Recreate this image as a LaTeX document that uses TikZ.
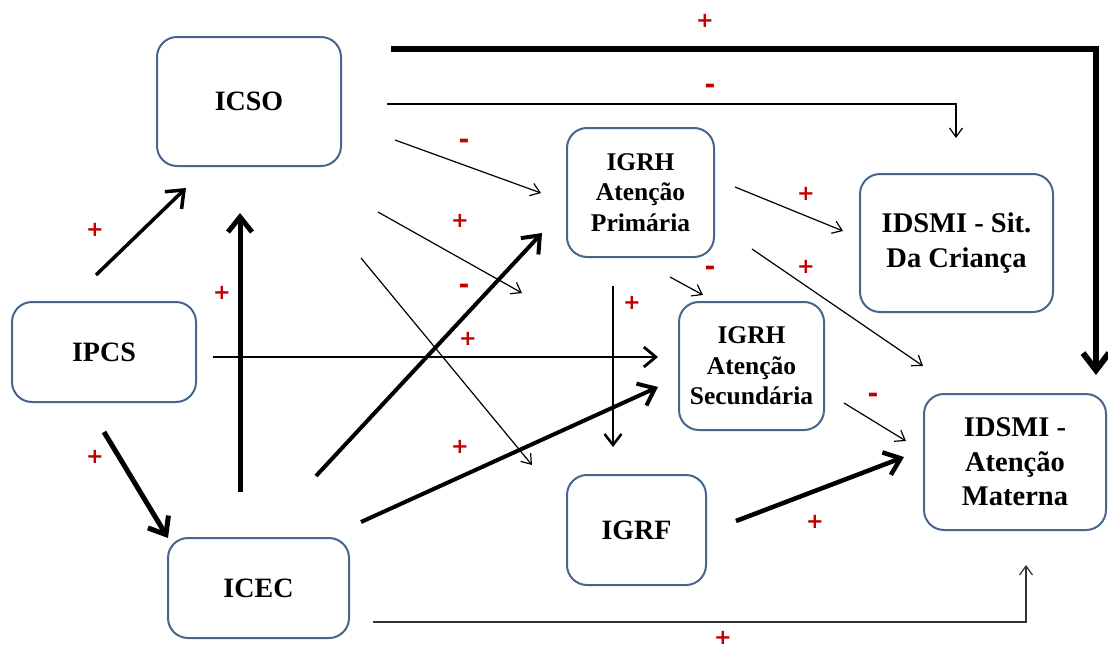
\documentclass[tikz,border=0pt]{standalone}
\usepackage{fontspec}
\setmainfont{Liberation Serif}
\newfontfamily\signfont{DejaVu Sans}
\usetikzlibrary{arrows.meta}
\definecolor{boxline}{RGB}{72,102,140}
\definecolor{signred}{RGB}{192,0,0}
\tikzset{
  box/.style={draw=boxline, line width=2pt, rounded corners=20pt, fill=white,
    align=center, inner sep=0pt},
  bigtxt/.style={font=\fontsize{28}{32}\selectfont\bfseries},
  igrhtxt/.style={font=\fontsize{25.5}{30.5}\selectfont\bfseries},
  idsmitxt/.style={font=\fontsize{28.5}{34.5}\selectfont\bfseries},
  thinarrow/.style={line width=1.2pt, -{Straight Barb[length=9pt,width=13pt]}},
  boldarrow/.style={line width=#1, -{Straight Barb[length=15pt,width=24pt]}},
  plus/.style={text=signred, font=\signfont\fontsize{21}{21}\selectfont\bfseries, inner sep=0pt},
  minus/.style={text=signred, font=\signfont\fontsize{26}{26}\selectfont\bfseries, inner sep=0pt},
}
\begin{document}
\begin{tikzpicture}[x=1pt,y=-1pt]
\useasboundingbox[fill=white] (0,0) rectangle (1108,648);

% boxes
\node[box,bigtxt,minimum width=184pt,minimum height=129pt] (icso) at (249,101.5) {ICSO};
\node[box,bigtxt,minimum width=184pt,minimum height=100pt] (ipcs) at (104,352) {IPCS};
\node[box,bigtxt,minimum width=181pt,minimum height=100pt] (icec) at (258.5,588) {ICEC};
\node[box,igrhtxt,minimum width=147pt,minimum height=129pt] (igrhap) at (640.5,192.5) {IGRH\\Atenção\\Primária};
\node[box,idsmitxt,minimum width=193pt,minimum height=138pt] (idsmisit) at (956.5,243) {IDSMI - Sit.\\Da Criança};
\node[box,igrhtxt,minimum width=145pt,minimum height=128pt] (igrhas) at (751.5,366) {IGRH\\Atenção\\Secundária};
\node[box,bigtxt,minimum width=139pt,minimum height=110pt] (igrf) at (636.5,530) {IGRF};
\node[box,idsmitxt,minimum width=182pt,minimum height=136pt] (idsmiam) at (1015,462) {IDSMI -\\Atenção\\Materna};

% connector end points
\coordinate (t1s) at (391,49);   \coordinate (t1c) at (1096,49);  \coordinate (t1e) at (1096,375);
\coordinate (t2s) at (387,104);  \coordinate (t2c) at (956,104);  \coordinate (t2e) at (956,138);
\coordinate (a1s) at (395,140);  \coordinate (a1e) at (541,193);
\coordinate (a2s) at (378,212);  \coordinate (a2e) at (522,293);
\coordinate (a3s) at (361,258);  \coordinate (a3e) at (532,465);
\coordinate (b1s) at (96,275);   \coordinate (b1e) at (186,188);
\coordinate (b2s) at (240,492);  \coordinate (b2e) at (240,213);
\coordinate (b3s) at (104,432);  \coordinate (b3e) at (168,538);
\coordinate (h1s) at (213,357);  \coordinate (h1e) at (658,357);
\coordinate (b4s) at (316,476);  \coordinate (b4e) at (542,233);
\coordinate (b5s) at (361,522);  \coordinate (b5e) at (658,387);
\coordinate (btS) at (373,622);  \coordinate (btC) at (1026,622); \coordinate (btE) at (1026,565);
\coordinate (v1s) at (613,286);  \coordinate (v1e) at (613,447);
\coordinate (s1s) at (670,277);  \coordinate (s1e) at (703,295);
\coordinate (c1s) at (735,187);  \coordinate (c1e) at (843,231);
\coordinate (c2s) at (752,249);  \coordinate (c2e) at (923,366);
\coordinate (c3s) at (844,403);  \coordinate (c3e) at (906,441);
\coordinate (b6s) at (736,521);  \coordinate (b6e) at (904,457);

% connectors
\draw[line width=6pt, -{Straight Barb[length=17pt,width=26pt]}] (t1s) -- (t1c) -- (t1e);
\draw[thinarrow] (t2s) -- (t2c) -- (t2e);
\draw[thinarrow] (a1s) -- (a1e);
\draw[thinarrow] (a2s) -- (a2e);
\draw[thinarrow] (a3s) -- (a3e);
\draw[boldarrow=3.5pt] (b1s) -- (b1e);
\draw[boldarrow=5pt] (b2s) -- (b2e);
\draw[boldarrow=5pt] (b3s) -- (b3e);
\draw[line width=2.8pt, -{Straight Barb[length=12pt,width=20pt]}] (h1s) -- (h1e);
\draw[boldarrow=4pt] (b4s) -- (b4e);
\draw[boldarrow=4pt] (b5s) -- (b5e);
\draw[thinarrow, draw=black!80] (btS) -- (btC) -- (btE);
\draw[line width=2.5pt, -{Straight Barb[length=11pt,width=17pt]}] (v1s) -- (v1e);
\draw[thinarrow] (s1s) -- (s1e);
\draw[thinarrow] (c1s) -- (c1e);
\draw[thinarrow] (c2s) -- (c2e);
\draw[thinarrow] (c3s) -- (c3e);
\draw[boldarrow=4.5pt] (b6s) -- (b6e);

% signs
\node[plus]  (l1)  at (705,21)  {+};
\node[minus] (l2)  at (710,89)  {-};
\node[minus] (l3)  at (464,144) {-};
\node[plus]  (l4)  at (460,221) {+};
\node[minus] (l5)  at (464,289) {-};
\node[plus]  (l6)  at (468,339) {+};
\node[plus]  (l7)  at (460,447) {+};
\node[plus]  (l8)  at (95,230)  {+};
\node[plus]  (l9)  at (222,293) {+};
\node[plus]  (l10) at (95,457)  {+};
\node[plus]  (l11) at (632,303) {+};
\node[minus] (l12) at (710,271) {-};
\node[plus]  (l13) at (806,194) {+};
\node[plus]  (l14) at (806,267) {+};
\node[minus] (l15) at (873,398) {-};
\node[plus]  (l16) at (815,522) {+};
\node[plus]  (l17) at (723,638) {+};
\end{tikzpicture}
\end{document}
